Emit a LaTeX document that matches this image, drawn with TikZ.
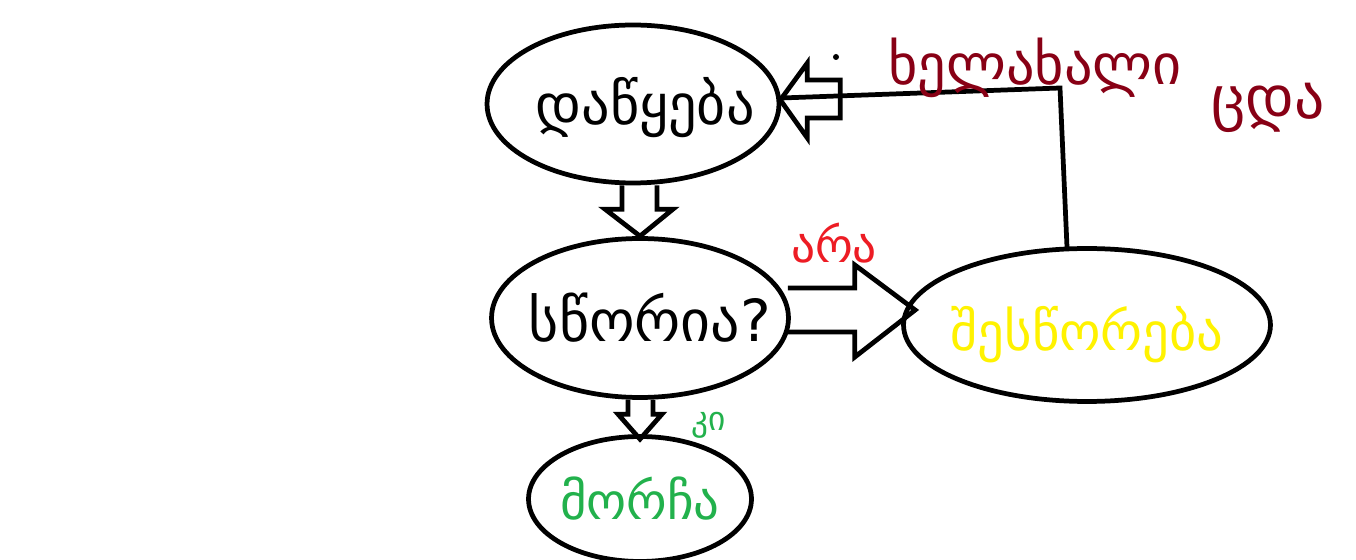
\documentclass[tikz,border=0pt]{standalone}
\usepackage{fontspec}
\newfontfamily\geofont{DejaVu Sans}
\usetikzlibrary{calc,shapes.geometric}
\definecolor{paintyellow}{RGB}{255,242,0}
\definecolor{paintred}{RGB}{237,28,36}
\definecolor{paintgreen}{RGB}{34,177,76}
\definecolor{paintmaroon}{RGB}{136,0,21}
\tikzset{
  oval/.style={draw,ellipse,line width=2.7pt,inner sep=0pt},
  hollow/.style={draw,line width=2.7pt,line join=miter},
  scrawl/.style={font=\geofont\fontsize{#1}{#1}\selectfont},
  scrawl/.default=31
}
\begin{document}
\begin{tikzpicture}[x=0.02cm,y=-0.02cm]
  \useasboundingbox (0,0) rectangle (1356,560);
  \clip (0,0) rectangle (1356,560);
  % the four ovals
  \node[oval,minimum width=5.84cm,minimum height=3.16cm,label={[scrawl=32,xshift=0.24cm,yshift=-0.08cm]center:დაწყება}] (start) at (633,104) {};
  \node[oval,minimum width=5.94cm,minimum height=3.18cm,label={[scrawl=33,xshift=0.2cm]center:სწორია?}] (check) at (640,318) {};
  \node[oval,minimum width=7.34cm,minimum height=3.06cm,label={[scrawl=30,text=paintyellow,yshift=-0.2cm]center:შესწორება}] (fix) at (1087,325) {};
  \node[oval,minimum width=4.46cm,minimum height=2.5cm,label={[scrawl=29,text=paintgreen]center:მორჩა}] (done) at (640,499) {};
  % block arrows
  \draw[hollow] ($(start.south)+(-11,0)$) |- ($(check.north)+(-35,-27)$) -- (check.north)
     -- ($(check.north)+(33,-27)$) -| ($(start.south)+(24,0)$);
  \draw[hollow] ($(check.south)+(-12,0)$) |- ($(done.north)+(-22,-20)$) -- ($(done.north)+(0,5)$)
     -- ($(done.north)+(22,-20)$) -| ($(check.south)+(13,0)$);
  \draw[hollow] ($(check.east)+(-3,-30)$) -- ($(check.east)+(64,-30)$) -- ($(check.east)+(64,-53)$)
     -- ($(fix.west)+(14,-15)$) -- ($(check.east)+(64,39)$) -- ($(check.east)+(64,14)$) -- ($(check.east)+(-3,14)$);
  \draw[hollow] ($(start.east)+(-1,-4)$) -- ($(start.east)+(26,-41)$) -- ($(start.east)+(26,-24)$)
     -- ($(start.east)+(59,-24)$) -- ($(start.east)+(59,14)$) -- ($(start.east)+(26,14)$)
     -- ($(start.east)+(26,34)$) -- cycle;
  % the way back
  \coordinate (bend) at (1060,88);
  \draw[line width=2.7pt] ($(start.east)+(0,-6)$) -- (bend) -- ($(fix.north)+(-20,1)$);
  \fill (836,57) circle (3);
  % labels
  \node[scrawl=27,text=paintred] (no) at (834,243) {არა};
  \node[scrawl=19,text=paintgreen] (yes) at (709,425) {კი};
  \node[scrawl=32,text=paintmaroon] (again) at (1035,68) {ხელახალი};
  \node[scrawl=34,text=paintmaroon] (try) at (1268,108) {ცდა};
\end{tikzpicture}
\end{document}
